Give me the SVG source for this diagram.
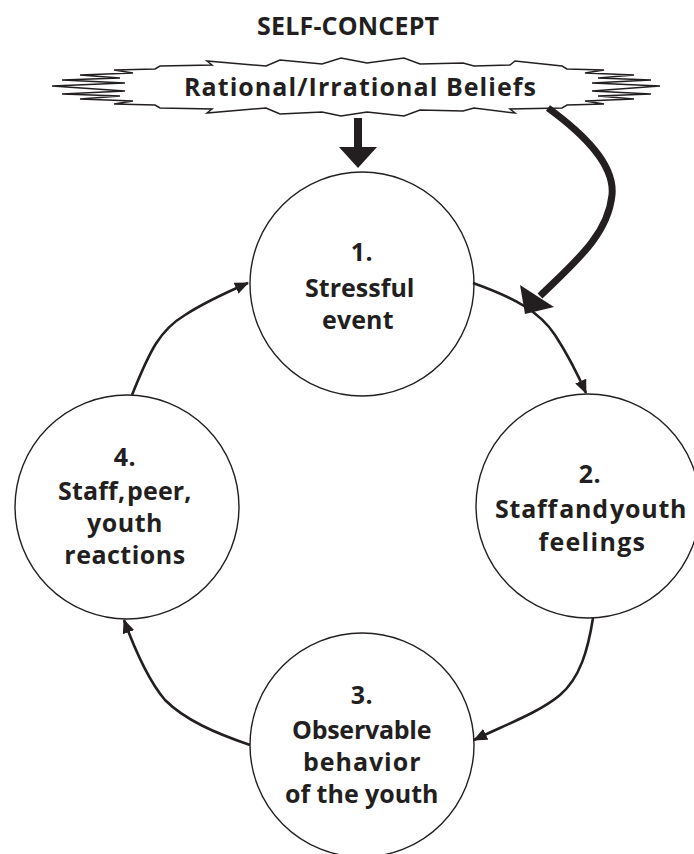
<svg xmlns="http://www.w3.org/2000/svg" width="694" height="854" viewBox="0 0 694 854">
<style>
  .node { fill: #ffffff; stroke: #231f20; stroke-width: 1.4; }
  .lbl { font-family: "Open Sans", "Liberation Sans", sans-serif; font-weight: 700; font-size: 25px; fill: #231f20; text-anchor: middle; letter-spacing: 0.5px; }
  .title { font-family: "Open Sans", "Liberation Sans", sans-serif; font-weight: 700; font-size: 25px; fill: #231f20; text-anchor: middle; }
  .conn { fill: none; stroke: #231f20; stroke-width: 2.6; }
  .thick { fill: none; stroke: #231f20; stroke-width: 7; }
  .burst { fill: #ffffff; stroke: #231f20; stroke-width: 1.5; stroke-linejoin: miter; }
</style>
<defs>
  <marker id="ah" markerUnits="userSpaceOnUse" markerWidth="14" markerHeight="12" refX="13" refY="6" orient="auto">
    <path d="M0,0 L14,6 L0,12 Z" fill="#231f20"/>
  </marker>
</defs>
<rect width="694" height="854" fill="#ffffff"/>

<g id="title">
  <text class="title" x="348" y="35" textLength="182" lengthAdjust="spacing">SELF-CONCEPT</text>
</g>

<g id="beliefs">
  <path class="burst" d="M52,86 L125,83 L62,80 L120,78 L80,75 L133,73 L114,70 L155,69 L160,66 L212,65 L207,61 L266,66 L280,60 L322,64 L341,58 L367,63 L404,58 L420,64 L463,63 L474,66 L510,65 L515,61 L562,66 L567,69 L604,70 L585,73 L634,75 L598,78 L651,80 L592,83 L660,86 L592,91 L651,94 L598,96 L634,99 L585,101 L604,104 L567,105 L562,108 L510,109 L515,113 L474,108 L463,111 L420,110 L404,116 L367,112 L341,116 L322,112 L280,114 L266,108 L207,113 L212,109 L160,108 L155,105 L114,104 L133,101 L80,99 L120,96 L62,94 L125,91 Z"/>
  <text class="title" x="360" y="96" font-size="28" textLength="352" lengthAdjust="spacing">Rational/Irrational  Beliefs</text>
</g>

<g id="n1">
  <circle class="node" cx="362" cy="284" r="112"/>
  <text class="lbl" x="362" y="261">1.</text>
  <text class="lbl" x="360" y="297" textLength="110" lengthAdjust="spacing">Stressful</text>
  <text class="lbl" x="358" y="329" textLength="72" lengthAdjust="spacing">event</text>
</g>

<g id="n2">
  <circle class="node" cx="588" cy="506" r="112"/>
  <text class="lbl" x="590" y="483">2.</text>
  <text class="lbl" x="591" y="518" word-spacing="-6" textLength="192" lengthAdjust="spacing">Staff and youth</text>
  <text class="lbl" x="592" y="551" textLength="107" lengthAdjust="spacing">feelings</text>
</g>

<g id="n3">
  <circle class="node" cx="362" cy="745" r="112"/>
  <text class="lbl" x="362" y="704">3.</text>
  <text class="lbl" x="362" y="739" textLength="140" lengthAdjust="spacing">Observable</text>
  <text class="lbl" x="362" y="771" textLength="118" lengthAdjust="spacing">behavior</text>
  <text class="lbl" x="362" y="803" textLength="154" lengthAdjust="spacing">of the youth</text>
</g>

<g id="n4">
  <circle class="node" cx="127" cy="507" r="112"/>
  <text class="lbl" x="125" y="466">4.</text>
  <text class="lbl" x="125" y="500" word-spacing="-5" textLength="134" lengthAdjust="spacing">Staff, peer,</text>
  <text class="lbl" x="125" y="532">youth</text>
  <text class="lbl" x="125" y="564">reactions</text>
</g>

<g id="connectors">
  <path class="conn" d="M132,395 C 150,350 160,330 185,315 C 205,302 225,293 248,283" marker-end="url(#ah)"/>
  <path class="conn" d="M473,283 C 515,298 540,312 555,335 C 568,355 578,375 586,393" marker-end="url(#ah)"/>
  <path class="conn" d="M593,618 C 588,650 580,678 560,695 C 540,712 505,725 474,740" marker-end="url(#ah)"/>
  <path class="conn" d="M250,745 C 215,733 185,720 165,700 C 148,680 135,650 124,620" marker-end="url(#ah)"/>
  <path class="thick" d="M548,108 C 585,135 615,165 612,195 C 608,235 575,262 540,296"/>
  <polygon points="520,285 554,307 525,314" fill="#231f20"/>
  <polygon points="354,118 362,118 362,147 377,147 358,168 339,147 354,147" fill="#231f20"/>
</g>
</svg>
